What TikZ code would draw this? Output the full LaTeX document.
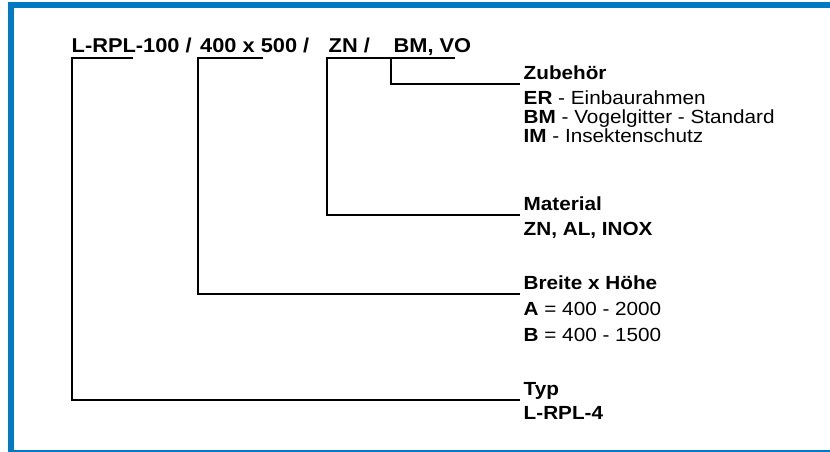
\documentclass[tikz,border=0pt]{standalone}
\usepackage{fontspec}
\setmainfont{Liberation Sans}[FakeStretch=1.09]
\definecolor{frameblue}{RGB}{0,122,194}
\begin{document}
\begin{tikzpicture}[x=1pt,y=-1pt,
  conn/.style={line width=2pt, line join=miter},
  hd/.style={anchor=base west, inner sep=0pt, font=\fontsize{20}{24}\selectfont\bfseries},
  ttl/.style={anchor=base west, inner sep=0pt, font=\fontsize{19}{23}\selectfont\bfseries},
  txt/.style={anchor=base west, inner sep=0pt, font=\fontsize{19}{23}\selectfont}]
\useasboundingbox (0,0) rectangle (830,452);
% frame
\fill[frameblue] (8,2) rectangle (14,452);
\fill[frameblue] (8,2) rectangle (830,8);
\fill[frameblue] (8,450) rectangle (830,452);
% header
\node[hd] (h1) at (71.5,52.7) {L-RPL-100 /};
\node[hd] (h2) at (200,52.7) {400 x 500 /};
\node[hd] (h3) at (328.5,52.7) {ZN /};
\node[hd] (h4) at (393.5,52.7) {BM, VO};
% descriptions
\node[ttl] (zub) at (523.5,79.3) {Zubehör};
\node[txt] (er) at (523.5,104) {\textbf{ER} - Einbaurahmen};
\node[txt] (bm) at (523.5,123) {\textbf{BM} - Vogelgitter - Standard};
\node[txt] (im) at (523.5,142) {\textbf{IM} - Insektenschutz};
\node[ttl] (mat) at (523.5,210) {Material};
\node[ttl] (matv) at (523.5,235) {ZN, AL, INOX};
\node[ttl] (bre) at (523.5,289.3) {Breite x Höhe};
\node[txt] (ba) at (523.5,315) {\textbf{A} = 400 - 2000};
\node[txt] (bb) at (523.5,341) {\textbf{B} = 400 - 1500};
\node[ttl] (typ) at (523.5,395) {Typ};
\node[ttl] (typv) at (523.5,419.3) {L-RPL-4};
% connector end points
\coordinate (a0) at (72,58.3);   \coordinate (a1) at (133.3,58.3);  \coordinate (t1) at (520,400);
\coordinate (b0) at (198,58.3);  \coordinate (b1) at (262.7,58.3);  \coordinate (t2) at (520,294.3);
\coordinate (c0) at (327,58.3);  \coordinate (c1) at (455,58.3);    \coordinate (t3) at (520,215);
\coordinate (d0) at (391,58.3);  \coordinate (t4) at (520,84.3);
% connectors
\draw[conn] (a1) -- (a0) |- (t1);
\draw[conn] (b1) -- (b0) |- (t2);
\draw[conn] (c1) -- (c0) |- (t3);
\draw[conn] (d0) |- (t4);
\end{tikzpicture}
\end{document}
